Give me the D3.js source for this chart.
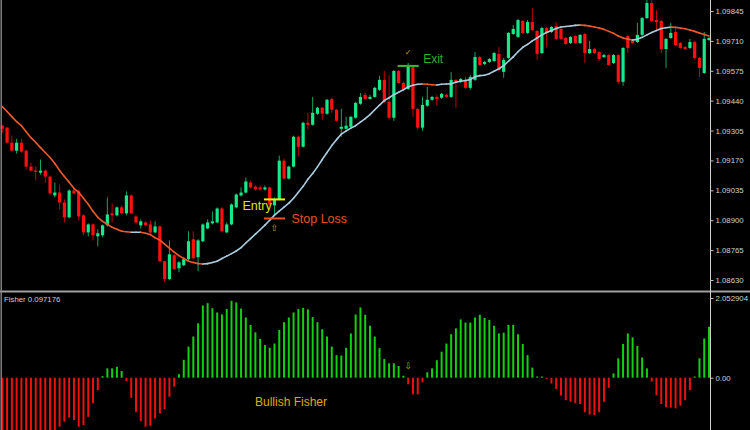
<!DOCTYPE html>
<html><head><meta charset="utf-8">
<script src="https://cdn.jsdelivr.net/npm/d3@7"></script>
<style>html,body{margin:0;padding:0;background:#000;}svg{display:block;}</style>
</head><body>
<svg id="chart" width="750" height="430"></svg>
<script>
// ---- data ----
const openP = [1.09327,1.09318,1.09250,1.09214,1.09250,1.09214,1.09142,1.09124,1.09115,1.09124,
1.09097,1.09012,1.09025,1.08980,1.08913,1.09034,1.09030,1.08922,1.08845,1.08881,
1.08827,1.08832,1.08877,1.08931,1.08922,1.08958,1.08931,1.09012,1.08917,1.08877,
1.08890,1.08881,1.08845,1.08872,1.08715,1.08634,1.08742,1.08683,1.08697,1.08724,
1.08814,1.08733,1.08805,1.08863,1.08886,1.08890,1.08953,1.08845,1.08881,1.08958,
1.09012,1.09025,1.09070,1.09052,1.09048,1.09039,1.09048,1.08967,1.08994,1.09169,
1.09088,1.09142,1.09277,1.09232,1.09340,1.09331,1.09381,1.09408,1.09381,1.09448,
1.09399,1.09313,1.09313,1.09322,1.09363,1.09426,1.09466,1.09448,1.09457,1.09489,
1.09534,1.09435,1.09363,1.09574,1.09520,1.09493,1.09592,1.09403,1.09318,1.09417,
1.09444,1.09457,1.09453,1.09466,1.09457,1.09534,1.09525,1.09534,1.09498,1.09534,
1.09637,1.09606,1.09615,1.09619,1.09651,1.09570,1.09633,1.09741,1.09728,1.09800,
1.09746,1.09795,1.09755,1.09655,1.09768,1.09750,1.09777,1.09764,1.09723,1.09700,
1.09732,1.09700,1.09741,1.09655,1.09673,1.09660,1.09637,1.09646,1.09610,1.09646,
1.09525,1.09732,1.09714,1.09705,1.09737,1.09813,1.09881,1.09804,1.09800,1.09673,
1.09723,1.09750,1.09700,1.09682,1.09678,1.09705,1.09633,1.09565,1.09714];
const highP = [1.09331,1.09322,1.09282,1.09268,1.09268,1.09219,1.09160,1.09142,1.09174,1.09129,
1.09102,1.09070,1.09061,1.08994,1.09039,1.09043,1.09039,1.08926,1.08886,1.08886,
1.08859,1.08881,1.09003,1.08976,1.08962,1.08967,1.09030,1.09016,1.08922,1.08904,
1.08895,1.08899,1.08895,1.08877,1.08715,1.08809,1.08746,1.08715,1.08733,1.08850,
1.08850,1.08814,1.08886,1.08904,1.08940,1.08958,1.08958,1.08890,1.08976,1.09021,
1.09048,1.09093,1.09079,1.09057,1.09057,1.09057,1.09052,1.09003,1.09192,1.09178,
1.09147,1.09282,1.09282,1.09345,1.09385,1.09457,1.09412,1.09412,1.09448,1.09453,
1.09403,1.09403,1.09367,1.09372,1.09435,1.09475,1.09475,1.09466,1.09502,1.09552,
1.09574,1.09556,1.09579,1.09579,1.09525,1.09610,1.09597,1.09408,1.09457,1.09502,
1.09462,1.09466,1.09475,1.09471,1.09570,1.09538,1.09543,1.09547,1.09556,1.09660,
1.09642,1.09619,1.09633,1.09660,1.09682,1.09633,1.09750,1.09782,1.09809,1.09804,
1.09804,1.09858,1.09759,1.09773,1.09773,1.09777,1.09795,1.09768,1.09728,1.09732,
1.09737,1.09741,1.09746,1.09710,1.09678,1.09664,1.09651,1.09651,1.09651,1.09651,
1.09682,1.09737,1.09719,1.09791,1.09818,1.09894,1.09894,1.09849,1.09804,1.09723,
1.09791,1.09768,1.09705,1.09687,1.09719,1.09710,1.09637,1.09750,1.09728];
const lowP = [1.09295,1.09246,1.09210,1.09201,1.09205,1.09129,1.09120,1.09079,1.09106,1.09070,
1.09012,1.09003,1.08949,1.08890,1.08908,1.09016,1.08899,1.08832,1.08827,1.08809,
1.08782,1.08823,1.08872,1.08890,1.08917,1.08926,1.08922,1.08926,1.08881,1.08863,
1.08872,1.08841,1.08841,1.08710,1.08620,1.08629,1.08674,1.08665,1.08692,1.08715,
1.08724,1.08670,1.08800,1.08859,1.08881,1.08886,1.08845,1.08841,1.08877,1.08953,
1.09007,1.09021,1.09043,1.09034,1.09034,1.09034,1.08967,1.08926,1.08989,1.09084,
1.09084,1.09138,1.09187,1.09228,1.09309,1.09327,1.09376,1.09354,1.09376,1.09385,
1.09345,1.09277,1.09309,1.09318,1.09358,1.09421,1.09444,1.09444,1.09453,1.09484,
1.09430,1.09354,1.09349,1.09516,1.09489,1.09489,1.09367,1.09309,1.09304,1.09412,
1.09439,1.09417,1.09448,1.09453,1.09453,1.09408,1.09520,1.09493,1.09489,1.09529,
1.09597,1.09601,1.09610,1.09615,1.09574,1.09543,1.09628,1.09737,1.09723,1.09741,
1.09741,1.09755,1.09624,1.09651,1.09682,1.09746,1.09714,1.09714,1.09691,1.09696,
1.09696,1.09696,1.09610,1.09651,1.09651,1.09619,1.09633,1.09597,1.09606,1.09516,
1.09507,1.09655,1.09696,1.09700,1.09732,1.09809,1.09795,1.09759,1.09655,1.09588,
1.09719,1.09687,1.09673,1.09669,1.09673,1.09628,1.09547,1.09561,1.09710];
const closeP = [1.09313,1.09250,1.09214,1.09250,1.09210,1.09142,1.09124,1.09120,1.09124,1.09097,
1.09021,1.09025,1.08980,1.08913,1.09034,1.09021,1.08917,1.08845,1.08881,1.08832,
1.08841,1.08877,1.08926,1.08922,1.08958,1.08931,1.09012,1.08931,1.08890,1.08895,
1.08877,1.08845,1.08872,1.08715,1.08634,1.08746,1.08679,1.08710,1.08724,1.08805,
1.08728,1.08809,1.08881,1.08890,1.08895,1.08953,1.08850,1.08881,1.08971,1.09016,
1.09025,1.09075,1.09048,1.09039,1.09039,1.09048,1.08971,1.08994,1.09169,1.09088,
1.09142,1.09277,1.09232,1.09340,1.09331,1.09385,1.09408,1.09381,1.09444,1.09399,
1.09349,1.09322,1.09327,1.09367,1.09430,1.09457,1.09448,1.09457,1.09498,1.09534,
1.09435,1.09363,1.09574,1.09520,1.09493,1.09592,1.09403,1.09318,1.09421,1.09444,
1.09457,1.09448,1.09471,1.09457,1.09534,1.09520,1.09538,1.09498,1.09547,1.09637,
1.09601,1.09615,1.09628,1.09655,1.09579,1.09624,1.09746,1.09764,1.09804,1.09746,
1.09795,1.09759,1.09651,1.09768,1.09746,1.09773,1.09719,1.09719,1.09696,1.09728,
1.09700,1.09737,1.09655,1.09673,1.09655,1.09628,1.09646,1.09601,1.09646,1.09525,
1.09678,1.09678,1.09700,1.09737,1.09813,1.09881,1.09800,1.09795,1.09673,1.09719,
1.09746,1.09691,1.09678,1.09673,1.09705,1.09633,1.09588,1.09719,1.09723];
const maP = [1.09413,1.09391,1.09368,1.09345,1.09327,1.09300,1.09273,1.09251,1.09228,1.09206,
1.09183,1.09156,1.09125,1.09098,1.09071,1.09044,1.09026,1.08999,1.08972,1.08940,
1.08913,1.08895,1.08882,1.08868,1.08859,1.08850,1.08848,1.08846,1.08846,1.08846,
1.08841,1.08835,1.08821,1.08810,1.08792,1.08774,1.08756,1.08740,1.08727,1.08715,
1.08709,1.08704,1.08702,1.08704,1.08709,1.08715,1.08727,1.08738,1.08749,1.08761,
1.08776,1.08797,1.08817,1.08837,1.08857,1.08878,1.08900,1.08923,1.08941,1.08959,
1.08977,1.08999,1.09026,1.09053,1.09085,1.09111,1.09141,1.09174,1.09206,1.09237,
1.09264,1.09289,1.09303,1.09316,1.09327,1.09343,1.09359,1.09377,1.09399,1.09420,
1.09440,1.09453,1.09467,1.09478,1.09489,1.09503,1.09510,1.09514,1.09515,1.09514,
1.09512,1.09511,1.09514,1.09515,1.09516,1.09523,1.09528,1.09531,1.09535,1.09548,
1.09553,1.09555,1.09562,1.09573,1.09584,1.09598,1.09618,1.09638,1.09661,1.09681,
1.09694,1.09710,1.09723,1.09737,1.09748,1.09757,1.09766,1.09773,1.09775,1.09777,
1.09780,1.09782,1.09780,1.09777,1.09773,1.09768,1.09762,1.09753,1.09744,1.09732,
1.09723,1.09718,1.09714,1.09717,1.09726,1.09737,1.09748,1.09757,1.09766,1.09769,
1.09772,1.09771,1.09768,1.09765,1.09759,1.09753,1.09746,1.09739,1.09732];
const fisherV = [-1.60,-1.70,-1.75,-1.80,-1.80,-1.75,-1.70,-1.65,-1.60,-1.50,
-1.45,-1.36,-1.26,-1.13,-1.03,-1.09,-1.26,-1.22,-1.01,-0.66,
-0.32,0.04,0.24,0.24,0.28,0.17,-0.09,-0.52,-0.88,-1.12,
-1.26,-1.24,-1.05,-0.92,-0.81,-0.49,-0.23,0.09,0.46,0.80,
1.06,1.40,1.86,1.92,1.79,1.68,1.63,1.77,1.98,1.94,
1.78,1.55,1.36,1.17,1.00,0.84,0.77,0.88,1.23,1.43,
1.55,1.68,1.77,1.80,1.76,1.56,1.43,1.25,1.06,0.80,
0.58,0.57,0.77,1.14,1.63,1.81,1.62,1.34,1.06,0.76,
0.48,0.37,0.37,0.30,0.05,-0.17,-0.43,-0.43,-0.12,0.14,
0.24,0.45,0.67,0.88,1.12,1.27,1.50,1.42,1.42,1.55,
1.62,1.54,1.49,1.34,1.14,1.16,1.36,1.36,1.12,0.87,
0.58,0.26,0.03,0.03,-0.03,-0.15,-0.29,-0.46,-0.58,-0.62,
-0.66,-0.68,-0.89,-0.95,-0.96,-0.89,-0.62,-0.26,0.11,0.50,
0.87,1.14,1.04,0.82,0.52,0.24,-0.10,-0.45,-0.68,-0.76,
-0.77,-0.79,-0.72,-0.58,-0.32,0.03,0.50,1.01,1.31];
const priceTicks = [1.09845,1.09710,1.09575,1.09440,1.09305,1.09170,1.09035,1.08900,1.08765,1.08630];
const fisherTicks = [2.052904, 0];
const fisherName = "Fisher";
const fisherLast = "0.097176";
const entryIndex = 57, entryPrice = 1.08994, stopPrice = 1.08908;
const exitIndex = 85, exitPrice = 1.09597;
const fisherSignalIndex = 85;

// ---- drawing ----
const svg = d3.select("#chart");
const n = openP.length;
const idx = d3.range(n);
const x = d3.scaleLinear().domain([0, n - 1]).range([2.3, 709]);
const y = d3.scaleLinear().domain([1.08630, 1.09845]).range([280, 11]);
const yf = d3.scaleLinear().domain([0, 2.052904]).range([377.7, 298]);

svg.append("rect").attr("width", 750).attr("height", 430).attr("fill", "#000");
const defs = svg.append("defs");
defs.append("clipPath").attr("id", "cm").append("rect").attr("x", 0).attr("y", 0).attr("width", 710).attr("height", 290);
defs.append("clipPath").attr("id", "cf").append("rect").attr("x", 0).attr("y", 293).attr("width", 710).attr("height", 137);

const GREEN = "#17e88a", RED = "#ff1010";
const main = svg.append("g").attr("clip-path", "url(#cm)");
const up = i => closeP[i] >= openP[i];

main.selectAll("line.wick").data(idx).join("line")
  .attr("x1", i => x(i)).attr("x2", i => x(i))
  .attr("y1", i => y(highP[i])).attr("y2", i => y(lowP[i]))
  .attr("stroke", i => up(i) ? "#10a860" : "#c00000").attr("stroke-width", 1);
main.selectAll("rect.body").data(idx).join("rect")
  .attr("x", i => x(i) - 1.6).attr("width", 3.2)
  .attr("y", i => y(Math.max(openP[i], closeP[i])))
  .attr("height", i => Math.max(1.2, Math.abs(y(openP[i]) - y(closeP[i]))))
  .attr("fill", i => up(i) ? GREEN : RED);

// moving average, colored by direction
main.selectAll("line.ma").data(idx.slice(1)).join("line")
  .attr("x1", i => x(i - 1)).attr("y1", i => y(maP[i - 1]))
  .attr("x2", i => x(i)).attr("y2", i => y(maP[i]))
  .attr("stroke", i => maP[i] >= maP[i - 1] ? "#a9cde0" : "#ee5a2c")
  .attr("stroke-width", 1.6).attr("stroke-linecap", "round");

// annotations
const ann = svg.append("g");
ann.append("line").attr("x1", x(entryIndex - 2) - 1).attr("x2", x(entryIndex + 2) + 1)
  .attr("y1", y(entryPrice)).attr("y2", y(entryPrice)).attr("stroke", "#f0f000").attr("stroke-width", 2);
ann.append("line").attr("x1", x(entryIndex - 2) - 1).attr("x2", x(entryIndex + 2) + 1)
  .attr("y1", y(stopPrice)).attr("y2", y(stopPrice)).attr("stroke", "#f05020").attr("stroke-width", 2);
ann.append("text").attr("x", x(entryIndex) - 32).attr("y", y(entryPrice) + 11)
  .attr("fill", "#e2e200").attr("font-family", "Liberation Sans, Arial, sans-serif").attr("font-size", 12.5).text("Entry");
ann.append("text").attr("x", x(entryIndex) + 17).attr("y", y(stopPrice) + 4.5)
  .attr("fill", "#e8501e").attr("font-family", "Liberation Sans, Arial, sans-serif").attr("font-size", 12.5).text("Stop Loss");
ann.append("text").attr("x", x(entryIndex)).attr("y", y(stopPrice) + 13).attr("text-anchor", "middle")
  .attr("fill", "#c0a400").attr("font-family", "DejaVu Sans, sans-serif").attr("font-size", 9).text("⇧");
ann.append("line").attr("x1", x(exitIndex - 2) - 1).attr("x2", x(exitIndex + 2) + 1)
  .attr("y1", y(exitPrice)).attr("y2", y(exitPrice)).attr("stroke", "#30c030").attr("stroke-width", 2);
ann.append("text").attr("x", x(exitIndex) + 15).attr("y", y(exitPrice) - 3)
  .attr("fill", "#2fb02f").attr("font-family", "Liberation Sans, Arial, sans-serif").attr("font-size", 12).text("Exit");
ann.append("text").attr("x", x(exitIndex)).attr("y", y(exitPrice) - 11).attr("text-anchor", "middle")
  .attr("fill", "#c8a000").attr("font-family", "DejaVu Sans, sans-serif").attr("font-size", 8).text("✓");

// Fisher panel
const fg = svg.append("g").attr("clip-path", "url(#cf)");
fg.selectAll("rect.fb").data(idx).join("rect")
  .attr("x", i => x(i) - 1).attr("width", 2)
  .attr("y", i => Math.min(yf(0), yf(fisherV[i])))
  .attr("height", i => Math.max(1, Math.abs(yf(fisherV[i]) - yf(0))))
  .attr("fill", i => fisherV[i] >= 0 ? "#10d010" : "#ee1010");
svg.append("text").attr("x", 255).attr("y", 406)
  .attr("fill", "#e0a800").attr("font-family", "Liberation Sans, Arial, sans-serif").attr("font-size", 12).text("Bullish Fisher");
svg.append("text").attr("x", x(fisherSignalIndex)).attr("y", yf(0) - 9).attr("text-anchor", "middle")
  .attr("fill", "#c0a000").attr("font-family", "DejaVu Sans, sans-serif").attr("font-size", 9).text("⇩");
svg.append("text").attr("x", 4).attr("y", 302)
  .attr("fill", "#cfcfcf").attr("font-family", "Liberation Sans, Arial, sans-serif").attr("font-size", 7.8)
  .text(fisherName + " " + fisherLast);

// frame
svg.append("rect").attr("x", 0).attr("y", 290.5).attr("width", 750).attr("height", 2).attr("fill", "#a0a0a0");
svg.append("line").attr("x1", 1.2).attr("x2", 1.2).attr("y1", 0).attr("y2", 430).attr("stroke", "#8a8a8a").attr("stroke-width", 1.4);
svg.append("line").attr("x1", 710.5).attr("x2", 710.5).attr("y1", 0).attr("y2", 430).attr("stroke", "#d0d0d0").attr("stroke-width", 1);

// axes
const ax = svg.append("g").attr("transform", "translate(710.5,0)")
  .call(d3.axisRight(y).tickValues(priceTicks).tickSize(3).tickPadding(2).tickFormat(d3.format(".5f")));
const afx = svg.append("g").attr("transform", "translate(710.5,0)")
  .call(d3.axisRight(yf).tickValues(fisherTicks).tickSize(3).tickPadding(2)
    .tickFormat(d => d === 0 ? "0.00" : d.toFixed(6)));
[ax, afx].forEach(g => {
  g.select(".domain").remove();
  g.selectAll(".tick line").attr("stroke", "#c0c0c0");
  g.selectAll(".tick text").attr("fill", "#d0d0d0")
    .attr("font-family", "Liberation Sans, Arial, sans-serif").attr("font-size", 7.8);
});
</script>
</body></html>
